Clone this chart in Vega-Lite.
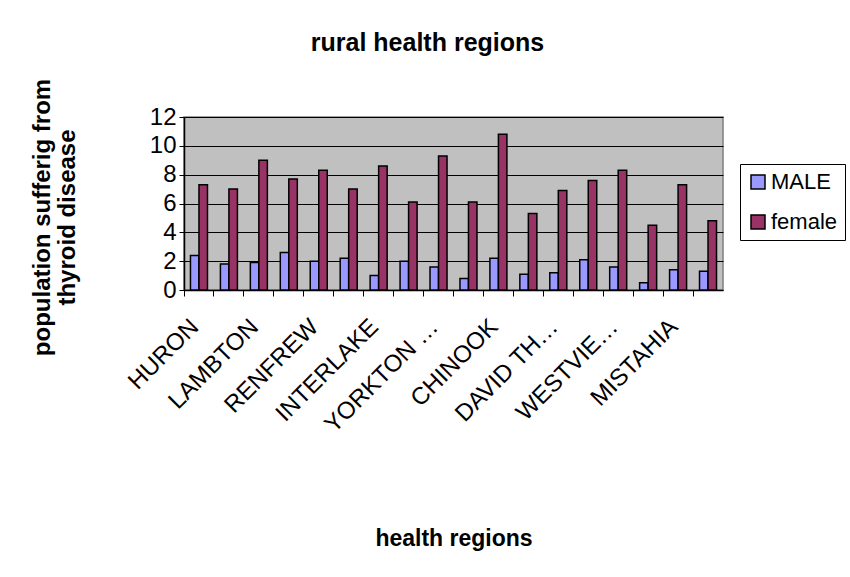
{
  "$schema": "https://vega.github.io/schema/vega-lite/v6.json",
  "width": 539,
  "height": 173,
  "autosize": {"type": "none"},
  "padding": {"left": 184, "top": 117, "right": 127, "bottom": 287},
  "background": "white",
  "title": {
    "text": "rural health regions",
    "font": "Liberation Sans",
    "fontSize": 25,
    "fontWeight": "bold",
    "color": "black",
    "anchor": "middle",
    "frame": "group",
    "dx": -26,
    "offset": 22
  },
  "data": {
    "values": [
      {"region": "HURON", "sex": "MALE", "value": 2.4},
      {"region": "HURON", "sex": "female", "value": 7.3},
      {"region": "PERTH", "sex": "MALE", "value": 1.8},
      {"region": "PERTH", "sex": "female", "value": 7.0},
      {"region": "LAMBTON", "sex": "MALE", "value": 1.9},
      {"region": "LAMBTON", "sex": "female", "value": 9.0},
      {"region": "ELGIN", "sex": "MALE", "value": 2.6},
      {"region": "ELGIN", "sex": "female", "value": 7.7},
      {"region": "RENFREW", "sex": "MALE", "value": 2.0},
      {"region": "RENFREW", "sex": "female", "value": 8.3},
      {"region": "GREY BRUCE", "sex": "MALE", "value": 2.2},
      {"region": "GREY BRUCE", "sex": "female", "value": 7.0},
      {"region": "INTERLAKE", "sex": "MALE", "value": 1.0},
      {"region": "INTERLAKE", "sex": "female", "value": 8.6},
      {"region": "PARKLAND", "sex": "MALE", "value": 2.0},
      {"region": "PARKLAND", "sex": "female", "value": 6.1},
      {"region": "YORKTON (SUNRISE)", "sex": "MALE", "value": 1.6},
      {"region": "YORKTON (SUNRISE)", "sex": "female", "value": 9.3},
      {"region": "SUN COUNTRY", "sex": "MALE", "value": 0.8},
      {"region": "SUN COUNTRY", "sex": "female", "value": 6.1},
      {"region": "CHINOOK", "sex": "MALE", "value": 2.2},
      {"region": "CHINOOK", "sex": "female", "value": 10.8},
      {"region": "PALLISER", "sex": "MALE", "value": 1.1},
      {"region": "PALLISER", "sex": "female", "value": 5.3},
      {"region": "DAVID THOMPSON", "sex": "MALE", "value": 1.2},
      {"region": "DAVID THOMPSON", "sex": "female", "value": 6.9},
      {"region": "EAST CENTRAL", "sex": "MALE", "value": 2.1},
      {"region": "EAST CENTRAL", "sex": "female", "value": 7.6},
      {"region": "WESTVIEW REGIONAL", "sex": "MALE", "value": 1.6},
      {"region": "WESTVIEW REGIONAL", "sex": "female", "value": 8.3},
      {"region": "ASPEN", "sex": "MALE", "value": 0.5},
      {"region": "ASPEN", "sex": "female", "value": 4.5},
      {"region": "MISTAHIA", "sex": "MALE", "value": 1.4},
      {"region": "MISTAHIA", "sex": "female", "value": 7.3},
      {"region": "NORTHERN LIGHTS", "sex": "MALE", "value": 1.3},
      {"region": "NORTHERN LIGHTS", "sex": "female", "value": 4.8}
    ]
  },
  "mark": {"type": "bar", "stroke": "black", "strokeWidth": 1.5},
  "encoding": {
    "x": {
      "field": "region",
      "type": "nominal",
      "sort": null,
      "scale": {"paddingInner": 0, "paddingOuter": 0},
      "axis": {
        "title": "health regions",
        "titleFont": "Liberation Sans",
        "titleFontSize": 23,
        "titleFontWeight": "bold",
        "titleColor": "black",
        "titleY": 255,
        "titleBaseline": "alphabetic",
        "bandPosition": 0,
        "labelOffset": -4,
        "labelAngle": -45,
        "labelAlign": "right",
        "labelBaseline": "middle",
        "labelPadding": 27,
        "labelFont": "Liberation Sans",
        "labelFontSize": 24,
        "labelColor": "black",
        "labelLimit": 150,
        "labelOverlap": false,
        "labelExpr": "indexof(['HURON','LAMBTON','RENFREW','INTERLAKE','YORKTON (SUNRISE)','CHINOOK','DAVID THOMPSON','WESTVIEW REGIONAL','MISTAHIA'], datum.value) >= 0 ? datum.label : ''",
        "domainColor": "black",
        "domainWidth": 1.5,
        "tickColor": "black",
        "tickSize": 6,
        "tickWidth": 1,
        "grid": false
      }
    },
    "xOffset": {
      "field": "sex",
      "type": "nominal",
      "sort": ["MALE", "female"],
      "scale": {"paddingInner": 0, "paddingOuter": 0.76}
    },
    "y": {
      "field": "value",
      "type": "quantitative",
      "scale": {"domain": [0, 12], "nice": false},
      "axis": {
        "values": [0, 2, 4, 6, 8, 10, 12],
        "title": ["population sufferig from", "thyroid disease"],
        "titleFont": "Liberation Sans",
        "titleFontSize": 24,
        "titleFontWeight": "bold",
        "titleColor": "black",
        "titlePadding": 70,
        "titleLineHeight": 25,
        "titleY": 100,
        "labelFont": "Liberation Sans",
        "labelFontSize": 24,
        "labelColor": "black",
        "labelPadding": 3,
        "domainColor": "black",
        "domainWidth": 1.5,
        "tickColor": "black",
        "tickSize": 5,
        "grid": true,
        "gridColor": "black",
        "gridWidth": 1,
        "gridOpacity": 1
      }
    },
    "color": {
      "field": "sex",
      "type": "nominal",
      "sort": ["MALE", "female"],
      "scale": {"domain": ["MALE", "female"], "range": ["#9999FF", "#993366"]},
      "legend": {
        "title": null,
        "orient": "none",
        "legendX": 556,
        "legendY": 47,
        "padding": 7,
        "strokeColor": "black",
        "fillColor": "white",
        "symbolType": "square",
        "symbolSize": 196,
        "symbolStrokeColor": "black",
        "symbolStrokeWidth": 1.5,
        "labelFont": "Liberation Sans",
        "labelFontSize": 22,
        "labelColor": "black",
        "labelOffset": 2,
        "rowPadding": 18
      }
    }
  },
  "config": {
    "view": {"fill": "#C0C0C0", "stroke": "#808080", "strokeWidth": 1.5}
  }
}
